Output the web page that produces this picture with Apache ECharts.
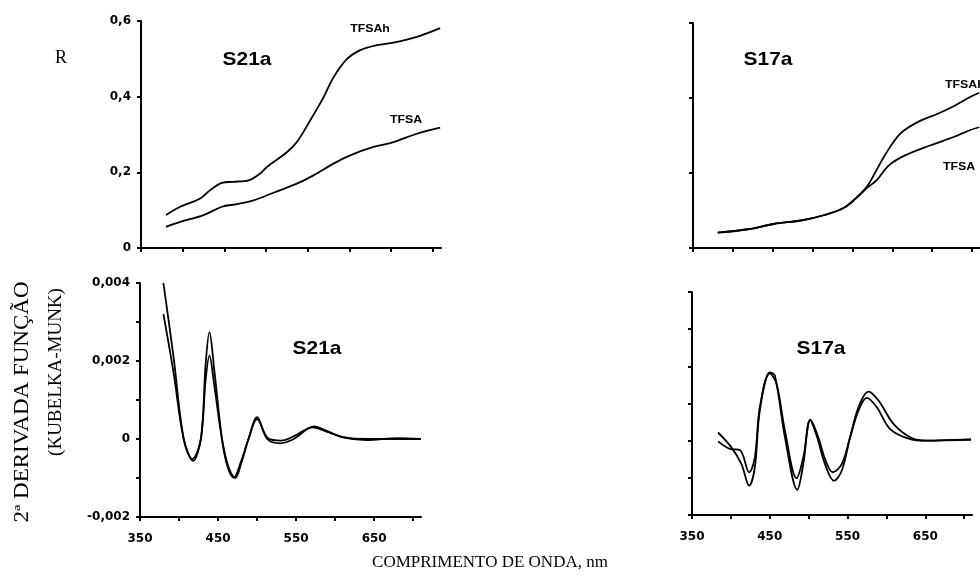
<!DOCTYPE html>
<html>
<head>
<meta charset="utf-8">
<script src="https://cdn.jsdelivr.net/npm/echarts@6/dist/echarts.min.js"></script>
<style>
  html, body { margin: 0; padding: 0; background: #fff; }
  #chart { width: 980px; height: 584px; }
</style>
</head>
<body>
<div id="chart"></div>
<script>
  // comprimento de onda (nm) e valores
  var xTicks = [350, 400, 450, 500, 550, 600, 650, 700];
  var xLabels = [350, 450, 550, 650];
  var rTicks = [0, 0.2, 0.4, 0.6];
  var dTicks = [-0.002, -0.001, 0, 0.001, 0.002, 0.003, 0.004];
  var dLabels = [-0.002, 0, 0.002, 0.004];

  // S21a - reflectancia
  var s21aTfsah = [[380, 0.087], [397, 0.109], [421, 0.131], [433, 0.153], [447, 0.172], [460, 0.175],
    [479, 0.179], [493, 0.197], [501, 0.214], [525, 0.253], [537, 0.28], [553, 0.337], [569, 0.398],
    [581, 0.451], [597, 0.499], [613, 0.523], [633, 0.536], [653, 0.543], [681, 0.558], [709, 0.581]];
  var s21aTfsa = [[380, 0.056], [397, 0.069], [425, 0.087], [447, 0.109], [465, 0.116], [485, 0.126],
    [509, 0.146], [537, 0.170], [557, 0.192], [581, 0.223], [601, 0.245], [629, 0.267], [653, 0.280],
    [681, 0.302], [709, 0.318]];

  // S17a - reflectancia
  var s17aTfsah = [[381, 0.041], [419, 0.050], [451, 0.064], [487, 0.074], [515, 0.088], [540, 0.108],
    [556, 0.136], [568, 0.163], [580, 0.207], [592, 0.252], [610, 0.305], [632, 0.336], [657, 0.358],
    [677, 0.378], [697, 0.402], [709, 0.414]];
  var s17aTfsa = [[381, 0.041], [419, 0.050], [451, 0.064], [487, 0.074], [515, 0.088], [540, 0.108],
    [556, 0.136], [568, 0.160], [580, 0.180], [596, 0.221], [616, 0.247], [648, 0.274], [677, 0.296],
    [697, 0.314], [709, 0.322]];

  // S21a - 2a derivada
  var s21aDerA = [[380, 0.0040], [393, 0.0021], [406, 0.0], [417, -0.00051], [428, 0.0], [434, 0.0019],
    [439, 0.00274], [445, 0.0018], [455, 0.0], [462, -0.0007], [470, -0.00099], [479, -0.0006],
    [489, 0.0], [500, 0.00056], [513, 0.0], [530, -0.00011], [547, 0.0], [573, 0.00032], [590, 0.0002],
    [610, 0.00004], [640, -0.00003], [680, 0.00002], [710, 0.0]];
  var s21aDerB = [[380, 0.0032], [393, 0.0017], [406, 0.0], [418, -0.00056], [428, 0.0], [434, 0.0015],
    [439, 0.00214], [445, 0.0014], [455, 0.0], [463, -0.0007], [472, -0.0010], [480, -0.0006],
    [489, 0.0], [500, 0.00051], [514, 0.00002], [531, -0.00004], [548, 0.00008], [571, 0.0003],
    [590, 0.00018], [610, 0.00005], [640, 0.0], [710, 0.0]];

  // S17a - 2a derivada
  var s17aDerA = [[383.5, 0.00022], [400.7, -0.00018], [413.6, -0.00063], [423.5, -0.00121], [430.8, -0.00072],
    [437.2, 0.00081], [450.1, 0.00184], [456.6, 0.00175], [469.5, 0.00009], [485.4, -0.00132],
    [493.1, -0.00063], [501.7, 0.00056], [510.3, 0.00013], [521.0, -0.00063], [532.6, -0.00108],
    [542.5, -0.00081], [553.3, 0.00009], [564.0, 0.0009], [576.9, 0.00132], [589.8, 0.00108],
    [609.1, 0.00045], [630.6, 0.00009], [649.9, 0.0], [708.8, 0.00002]];
  var s17aDerB = [[383.5, -0.00002], [398.6, -0.00022], [411.5, -0.00025], [423.5, -0.00085], [430.8, -0.00045],
    [437.2, 0.0009], [450.1, 0.00181], [458.7, 0.00153], [469.5, 0.00027], [484.5, -0.00101],
    [493.1, -0.00045], [502.5, 0.00056], [512.4, 0.00009], [521.0, -0.00049], [530.9, -0.00085],
    [542.5, -0.00063], [553.3, 0.00009], [564.0, 0.00081], [574.7, 0.00115], [587.6, 0.0009],
    [604.8, 0.00031], [630.6, 0.00004], [649.9, 0.0], [708.8, 0.00004]];

  var lineCol = '#000';
  var labelFont = { fontFamily: 'DejaVu Sans', fontWeight: 'bold', fontSize: 12, color: '#000' };
  var comma = function (v) { return String(v).replace('.', ','); };

  function xAxisOf(idx, showLabels) {
    return {
      type: 'value', gridIndex: idx, min: 350, max: 710,
      axisLine: { onZero: false, lineStyle: { color: lineCol, width: 2 } },
      axisTick: { show: true, length: 4, lineStyle: { color: lineCol, width: 2 }, customValues: xTicks },
      axisLabel: Object.assign({ show: showLabels, margin: 16, customValues: xLabels }, labelFont),
      splitLine: { show: false }
    };
  }
  function yAxisOf(idx, min, max, ticks, labels, showLabels) {
    return {
      type: 'value', gridIndex: idx, min: min, max: max,
      axisLine: { show: true, onZero: false, lineStyle: { color: lineCol, width: 2 } },
      axisTick: { show: true, length: 4, lineStyle: { color: lineCol, width: 2 }, customValues: ticks },
      axisLabel: Object.assign({ show: showLabels, margin: 10, customValues: labels, formatter: comma }, labelFont),
      splitLine: { show: false }
    };
  }
  function lineOf(idx, data) {
    return {
      type: 'line', xAxisIndex: idx, yAxisIndex: idx, data: data,
      smooth: 0.35, showSymbol: false, symbol: 'none', silent: true,
      lineStyle: { color: lineCol, width: 1.8 }
    };
  }
  // texto solto (titulos dos paineis, nomes das curvas, titulos dos eixos)
  function txt(x, y, s, font, el, st) {
    return Object.assign({
      type: 'text', x: x, y: y, silent: true,
      style: Object.assign({
        text: s, fill: '#000', align: 'center', verticalAlign: 'middle', font: font
      }, st || {})
    }, el || {});
  }
  var titleFont = 'bold 19px "Liberation Sans"';
  var curveFont = 'bold 11px "Liberation Sans"';
  var serif = '"Liberation Serif"';

  var chart = echarts.init(document.getElementById('chart'), null, { renderer: 'canvas' });
  chart.setOption({
    animation: false,
    backgroundColor: '#fff',
    grid: [
      { left: 141, top: 21, width: 300, height: 227 },
      { left: 140, top: 283, width: 281, height: 234 },
      { left: 693, top: 23, width: 297, height: 225 },
      { left: 692, top: 292, width: 280, height: 223 }
    ],
    xAxis: [xAxisOf(0, false), xAxisOf(1, true), xAxisOf(2, false), xAxisOf(3, true)],
    yAxis: [
      yAxisOf(0, 0, 0.6, rTicks, rTicks, true),
      yAxisOf(1, -0.002, 0.004, dTicks, dLabels, true),
      yAxisOf(2, 0, 0.6, rTicks, rTicks, false),
      yAxisOf(3, -0.002, 0.004, dTicks, dLabels, false)
    ],
    series: [
      lineOf(0, s21aTfsah), lineOf(0, s21aTfsa),
      lineOf(1, s21aDerA), lineOf(1, s21aDerB),
      lineOf(2, s17aTfsah), lineOf(2, s17aTfsa),
      lineOf(3, s17aDerA), lineOf(3, s17aDerB)
    ],
    graphic: [
      txt(61, 58, 'R', '18px ' + serif),
      txt(247, 60, 'S21a', titleFont, { scaleX: 1.1 }),
      txt(370, 29, 'TFSAh', curveFont, { scaleX: 1.12 }),
      txt(406, 120, 'TFSA', curveFont, { scaleX: 1.12 }),
      txt(317, 349, 'S21a', titleFont, { scaleX: 1.1 }),
      txt(768, 60, 'S17a', titleFont, { scaleX: 1.1 }),
      txt(945, 85, 'TFSAh', curveFont, { scaleX: 1.12 }, { align: 'left' }),
      txt(959, 167, 'TFSA', curveFont, { scaleX: 1.12 }),
      txt(821, 349, 'S17a', titleFont, { scaleX: 1.1 }),
      txt(490, 563, 'COMPRIMENTO DE ONDA, nm', '17px ' + serif),
      txt(23, 402, '2ª DERIVADA FUNÇÃO', '20px ' + serif, { rotation: Math.PI / 2, scaleX: 1.15 }),
      txt(56, 372, '(KUBELKA-MUNK)', '19px ' + serif, { rotation: Math.PI / 2 })
    ]
  });
</script>
</body>
</html>
